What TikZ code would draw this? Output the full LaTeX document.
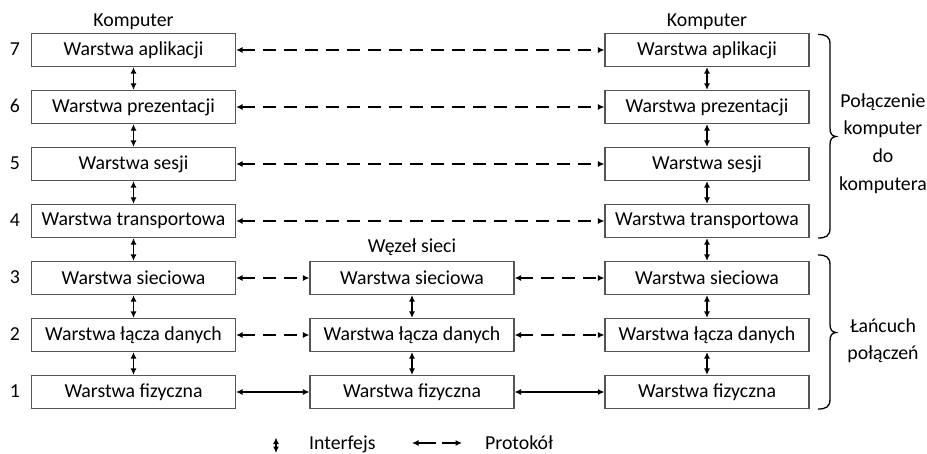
\documentclass[tikz,border=0pt]{standalone}
\usepackage{fontspec}
\setmainfont{Carlito}
\usetikzlibrary{arrows.meta}
\definecolor{boxgray}{HTML}{555555}
\newcommand\layfont{\fontsize{19.8}{23}\selectfont}
\tikzset{
  layer/.style={draw=boxgray, line width=1.1pt, minimum width=204pt, minimum height=33pt, inner sep=0pt, font=\layfont},
  lbl/.style={inner sep=0pt, font=\layfont},
  iface/.style={line width=1.4pt, {Latex[length=6.5pt,width=6pt]}-{Latex[length=6.5pt,width=6pt]}},
  proto/.style={line width=1.4pt, dash pattern=on 13pt off 8pt, {Latex[length=6.5pt,width=6pt]}-{Latex[length=6.5pt,width=6pt]}},
  phys/.style={line width=1.2pt, {Latex[length=6.5pt,width=6pt]}-{Latex[length=6.5pt,width=6pt]}},
  bracepath/.style={line width=1.3pt, black}
}
\begin{document}
\begin{tikzpicture}[x=1pt,y=-1pt]
\useasboundingbox (0,0) rectangle (927,454);
% left column
\node[layer] (L7) at (133.5,50) {Warstwa aplikacji};
\node[layer] (L6) at (133.5,107) {Warstwa prezentacji};
\node[layer] (L5) at (133.5,164) {Warstwa sesji};
\node[layer] (L4) at (133.5,221) {Warstwa transportowa};
\node[layer] (L3) at (133.5,278) {Warstwa sieciowa};
\node[layer] (L2) at (133.5,335) {Warstwa łącza danych};
\node[layer] (L1) at (133.5,392) {Warstwa fizyczna};
% middle column
\node[layer] (M3) at (412,278) {Warstwa sieciowa};
\node[layer] (M2) at (412,335) {Warstwa łącza danych};
\node[layer] (M1) at (412,392) {Warstwa fizyczna};
% right column
\node[layer] (R7) at (707,50) {Warstwa aplikacji};
\node[layer] (R6) at (707,107) {Warstwa prezentacji};
\node[layer] (R5) at (707,164) {Warstwa sesji};
\node[layer] (R4) at (707,221) {Warstwa transportowa};
\node[layer] (R3) at (707,278) {Warstwa sieciowa};
\node[layer] (R2) at (707,335) {Warstwa łącza danych};
\node[layer] (R1) at (707,392) {Warstwa fizyczna};
% headings
\node[lbl] (hl) at (133.5,22) {Komputer};
\node[lbl] (hr) at (707,22) {Komputer};
\node[lbl] (hm) at (412,247) {Węzeł sieci};
% numbers
\node[lbl] (n7) at (15,49) {7};
\node[lbl] (n6) at (15,106) {6};
\node[lbl] (n5) at (15,163) {5};
\node[lbl] (n4) at (15,220) {4};
\node[lbl] (n3) at (15,277) {3};
\node[lbl] (n2) at (15,334) {2};
\node[lbl] (n1) at (15,391) {1};
% interfaces
\foreach \a/\b in {7/6,6/5,5/4,4/3,3/2,2/1}{
  \draw[iface] (L\a.south) -- (L\b.north);
  \draw[iface] (R\a.south) -- (R\b.north);
}
\draw[iface] (M3.south) -- (M2.north);
\draw[iface] (M2.south) -- (M1.north);
% protocols
\foreach \r in {7,6,5,4}{
  \draw[proto] (L\r.east) -- (R\r.west);
}
\foreach \r in {3,2}{
  \draw[proto] (L\r.east) -- (M\r.west);
  \draw[proto] (M\r.east) -- (R\r.west);
}
\draw[phys] (L1.east) -- (M1.west);
\draw[phys] (M1.east) -- (R1.west);
% braces
\draw[bracepath] (818,34.5) .. controls (826,34.5) and (830,36.5) .. (830,44) -- (830,128)
  .. controls (830,134) and (832,136) .. (836,136.5)
  .. controls (832,137) and (830,139) .. (830,145) -- (830,228)
  .. controls (830,236) and (826,238) .. (818,238);
\draw[bracepath] (818,255) .. controls (826,255) and (830,257) .. (830,265) -- (830,324)
  .. controls (830,330) and (832,332) .. (836,332.5)
  .. controls (832,333) and (830,335) .. (830,341) -- (830,399)
  .. controls (830,407) and (826,409) .. (818,409);
\node[lbl, align=center, font=\fontsize{19.8}{27.7}\selectfont] (t1) at (883,143.5) {Połączenie\\komputer\\do\\komputera};
\node[lbl, align=center, font=\fontsize{19.8}{27}\selectfont] (t2) at (883,340.5) {Łańcuch\\połączeń};
% legend
\coordinate (ia) at (276,437.5);
\coordinate (ib) at (276,453);
\draw[iface] (ia) -- (ib);
\node[lbl, anchor=base west] (li) at (309,449.5) {Interfejs};
\coordinate (pa) at (412,443);
\coordinate (pb) at (462,443);
\draw[line width=1.4pt, dash pattern=on 18pt off 6pt, {Latex[length=6.5pt,width=6pt]}-{Latex[length=6.5pt,width=6pt]}] (pa) -- (pb);
\node[lbl, anchor=base west] (lp) at (485,449.5) {Protokół};
\end{tikzpicture}
\end{document}
